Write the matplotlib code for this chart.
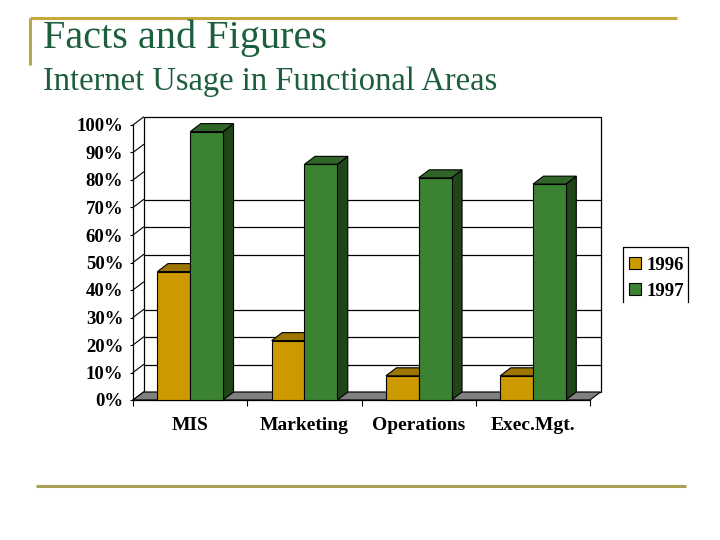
import matplotlib
matplotlib.use("Agg")
import matplotlib.pyplot as plt
from matplotlib.patches import Polygon, Rectangle
from matplotlib.lines import Line2D

categories = ["MIS", "Marketing", "Operations", "Exec.Mgt."]
series_names = ["1996", "1997"]
values_1996 = [46.7, 21.6, 8.8, 8.8]
values_1997 = [97.6, 85.7, 80.8, 78.5]
y_ticks = [0, 10, 20, 30, 40, 50, 60, 70, 80, 90, 100]
wall_grid = [10, 20, 30, 50, 60, 70]  # the lines that show on the back wall

front_colors = ["#cc9900", "#3b8232"]
top_colors = ["#9c7600", "#2f6627"]
side_colors = ["#8a6800", "#1f4519"]

serif = "Liberation Serif"
W, H = 720, 540

fig = plt.figure(figsize=(7.2, 5.4), dpi=100)

# slide decoration
deco = fig.add_axes([0, 0, 1, 1])
deco.set_xlim(0, W)
deco.set_ylim(H, 0)
deco.axis("off")
deco.plot([29.5, 677], [17.5, 17.5], color="#c4aa3c", lw=2.2, solid_capstyle="butt")
deco.plot([29.5, 29.5], [17.5, 65], color="#b9a64a", lw=2.2, solid_capstyle="butt")
deco.plot([36, 686], [486, 486], color="#a9a055", lw=2.2, solid_capstyle="butt")
deco.text(43, 48, "Facts and Figures", family=serif, fontsize=29, color="#1d5e3c", va="baseline")
deco.text(43, 90, "Internet Usage in Functional Areas", family=serif, fontsize=23.5,
          color="#1d5e3c", va="baseline")

# chart: front plane of the 3d columns
ax = fig.add_axes([133 / W, 140 / H, 457 / W, 275 / H])
ax.set_xlim(0, len(categories))
ax.set_ylim(0, 100)
ax.patch.set_alpha(0)
for s in ["top", "right"]:
    ax.spines[s].set_visible(False)
ax.spines["left"].set_linewidth(0.9)
ax.spines["bottom"].set_linewidth(0.9)

dx, dy = 0.092, 2.9
n = len(categories)

# back wall and side wall
ax.add_patch(Rectangle((dx, dy), n, 100, facecolor="white", edgecolor="black",
                       lw=0.9, clip_on=False, zorder=0))
for v in wall_grid:
    ax.add_line(Line2D([dx, n + dx], [v + dy, v + dy], color="black", lw=0.9,
                       clip_on=False, zorder=1))
for v in y_ticks:
    ax.add_line(Line2D([0, dx], [v, v + dy], color="black", lw=0.8, clip_on=False, zorder=1))

# floor
ax.add_patch(Polygon([(0, 0), (n, 0), (n + dx, dy), (dx, dy)], closed=True,
                     facecolor="#808080", edgecolor="black", lw=0.8, clip_on=False, zorder=2))

gap, bw = 0.214, 0.287
for i in range(n):
    for j, vals in enumerate([values_1996, values_1997]):
        v = vals[i]
        x0 = i + gap + j * bw
        side = Polygon([(x0 + bw, 0), (x0 + bw + dx, dy), (x0 + bw + dx, v + dy), (x0 + bw, v)],
                       closed=True, facecolor=side_colors[j], edgecolor="black", lw=0.8,
                       clip_on=False, zorder=3)
        top = Polygon([(x0, v), (x0 + bw, v), (x0 + bw + dx, v + dy), (x0 + dx, v + dy)],
                      closed=True, facecolor=top_colors[j], edgecolor="black", lw=0.8,
                      clip_on=False, zorder=3)
        front = Rectangle((x0, 0), bw, v, facecolor=front_colors[j], edgecolor="black",
                          lw=0.8, clip_on=False, zorder=4)
        ax.add_patch(side)
        ax.add_patch(top)
        ax.add_patch(front)

ax.set_yticks(y_ticks)
ax.set_yticklabels([f"{t}%" for t in y_ticks], family=serif, fontweight="bold", fontsize=13.5)
ax.tick_params(axis="y", length=2.5, width=0.8, pad=4.5)
ax.set_xticks(range(n + 1))
ax.set_xticklabels([])
ax.tick_params(axis="x", which="major", length=4, width=0.8, direction="out")
ax.set_xticks([i + 0.5 for i in range(n)], minor=True)
ax.set_xticklabels(categories, minor=True, family=serif, fontweight="bold", fontsize=14)
ax.tick_params(axis="x", which="minor", length=0, pad=12)

# legend box (open at the bottom, as in the slide)
deco.plot([623, 623, 688, 688], [302, 247, 247, 302], color="black", lw=0.9)
for j, name in enumerate(series_names):
    yc = 262.5 + j * 26.5
    deco.add_patch(Rectangle((629, yc - 6), 12, 12, facecolor=front_colors[j],
                             edgecolor="black", lw=0.8))
    deco.text(646, yc + 7, name, family=serif, fontweight="bold", fontsize=13.5,
              va="baseline", ha="left")

fig.savefig("out.png", dpi=100)
